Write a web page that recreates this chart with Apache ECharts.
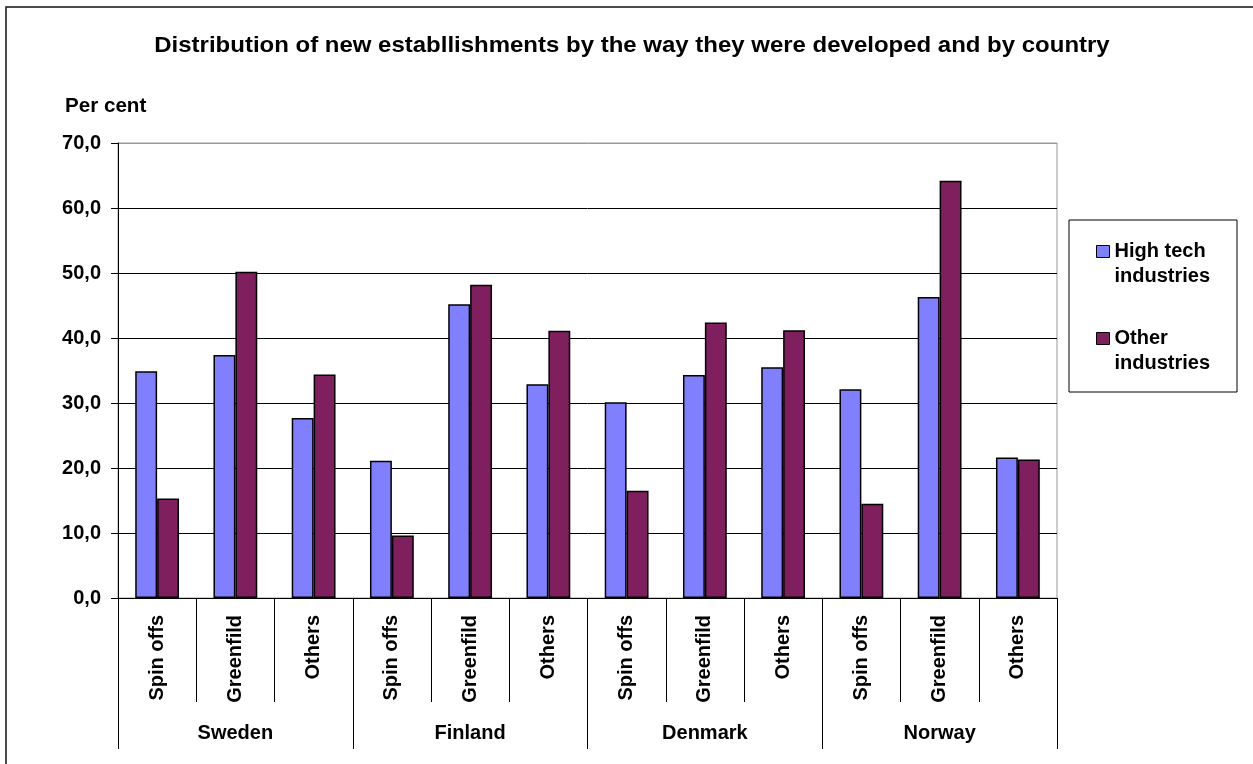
<!DOCTYPE html>
<html>
<head>
<meta charset="utf-8">
<script src="https://cdn.jsdelivr.net/npm/echarts@6/dist/echarts.min.js"></script>
<style>
html,body{margin:0;padding:0;background:#fff;}
#c{width:1253px;height:764px;}
</style>
</head>
<body>
<div id="c"></div>
<script>
const titleText = 'Distribution of new establlishments by the way they were developed and by country';
const yAxisTitle = 'Per cent';
const countries = ['Sweden', 'Finland', 'Denmark', 'Norway'];
const types = ['Spin offs', 'Greenfild', 'Others'];
const categories = [
  'Spin offs', 'Greenfild', 'Others',
  'Spin offs', 'Greenfild', 'Others',
  'Spin offs', 'Greenfild', 'Others',
  'Spin offs', 'Greenfild', 'Others'
];
const seriesNames = ['High tech industries', 'Other industries'];
const highTech = [34.9, 37.4, 27.7, 21.1, 45.2, 32.9, 30.1, 34.3, 35.5, 32.1, 46.3, 21.6];
const otherInd = [15.3, 50.2, 34.4, 9.6, 48.2, 41.1, 16.5, 42.4, 41.2, 14.5, 64.2, 21.3];
const yTicks = [0, 10, 20, 30, 40, 50, 60, 70];

const FONT = 'Arial, "Liberation Sans", sans-serif';
const chart = echarts.init(document.getElementById('c'), null, {renderer: 'canvas'});

const splitColors = yTicks.map((v, i) => i === yTicks.length - 1 ? '#999999' : '#000000');

chart.setOption({
  backgroundColor: '#ffffff',
  animation: false,
  graphic: [
    {type: 'rect', shape: {x: 6, y: 7, width: 1300, height: 800}, style: {fill: 'none', stroke: '#111', lineWidth: 1.5}, silent: true, z: 0},
    {type: 'text', x: 632, y: 46, scaleX: 1.09, style: {text: titleText, font: 'bold 22px ' + FONT, fill: '#000', textAlign: 'center', textVerticalAlign: 'middle'}},
    {type: 'text', x: 65, y: 106, scaleX: 1.03, style: {text: yAxisTitle, font: 'bold 20px ' + FONT, fill: '#000', textAlign: 'left', textVerticalAlign: 'middle'}},
    {type: 'rect', shape: {x: 1069, y: 220, width: 168, height: 172}, style: {fill: 'none', stroke: '#000', lineWidth: 1}, silent: true}
  ],
  legend: {
    orient: 'vertical',
    left: 1096,
    top: 214,
    padding: 0,
    itemGap: 12,
    itemWidth: 13,
    itemHeight: 12,
    icon: 'rect',
    data: seriesNames,
    formatter: function (name) {
      const parts = name.split(' ');
      const last = parts.pop();
      return '\n' + parts.join(' ') + '\n' + last;
    },
    textStyle: {fontFamily: FONT, fontWeight: 'bold', fontSize: 20, color: '#000', lineHeight: 25},
    itemStyle: {borderColor: '#000', borderWidth: 1}
  },
  grid: {
    left: 118, right: 196, top: 143, bottom: 166,
    show: true, borderColor: '#999999', borderWidth: 1, backgroundColor: '#ffffff'
  },
  xAxis: [
    {
      type: 'category',
      data: categories,
      position: 'bottom',
      axisLine: {show: true, lineStyle: {color: '#000', width: 1}},
      axisTick: {show: true, length: 104, interval: 0, lineStyle: {color: '#000', width: 1}},
      axisLabel: {interval: 0, rotate: 90, margin: 17, fontFamily: FONT, fontWeight: 'bold', fontSize: 20, color: '#000'},
      splitLine: {show: false}
    },
    {
      type: 'category',
      data: countries,
      position: 'bottom',
      axisLine: {show: false},
      axisTick: {show: true, length: 151, interval: 0, lineStyle: {color: '#000', width: 1}},
      axisLabel: {interval: 0, margin: 125, fontFamily: FONT, fontWeight: 'bold', fontSize: 20, color: '#000'},
      splitLine: {show: false}
    }
  ],
  yAxis: {
    type: 'value',
    min: 0, max: 70, interval: 10,
    axisLine: {show: true, lineStyle: {color: '#000', width: 1}},
    axisTick: {show: true, length: 7, lineStyle: {color: '#000'}},
    axisLabel: {
      margin: 17, fontFamily: FONT, fontWeight: 'bold', fontSize: 20, color: '#000',
      formatter: v => v.toFixed(1).replace('.', ',')
    },
    splitLine: {show: true, lineStyle: {color: splitColors, width: 1}}
  },
  series: [
    {
      name: seriesNames[0], type: 'bar', xAxisIndex: 0, data: highTech,
      barGap: '0%', barCategoryGap: '44%',
      itemStyle: {color: '#8080FF', borderColor: '#000', borderWidth: 1.5}
    },
    {
      name: seriesNames[1], type: 'bar', xAxisIndex: 0, data: otherInd,
      barGap: '0%', barCategoryGap: '44%',
      itemStyle: {color: '#801F5E', borderColor: '#000', borderWidth: 1.5}
    }
  ]
});
</script>
</body>
</html>
